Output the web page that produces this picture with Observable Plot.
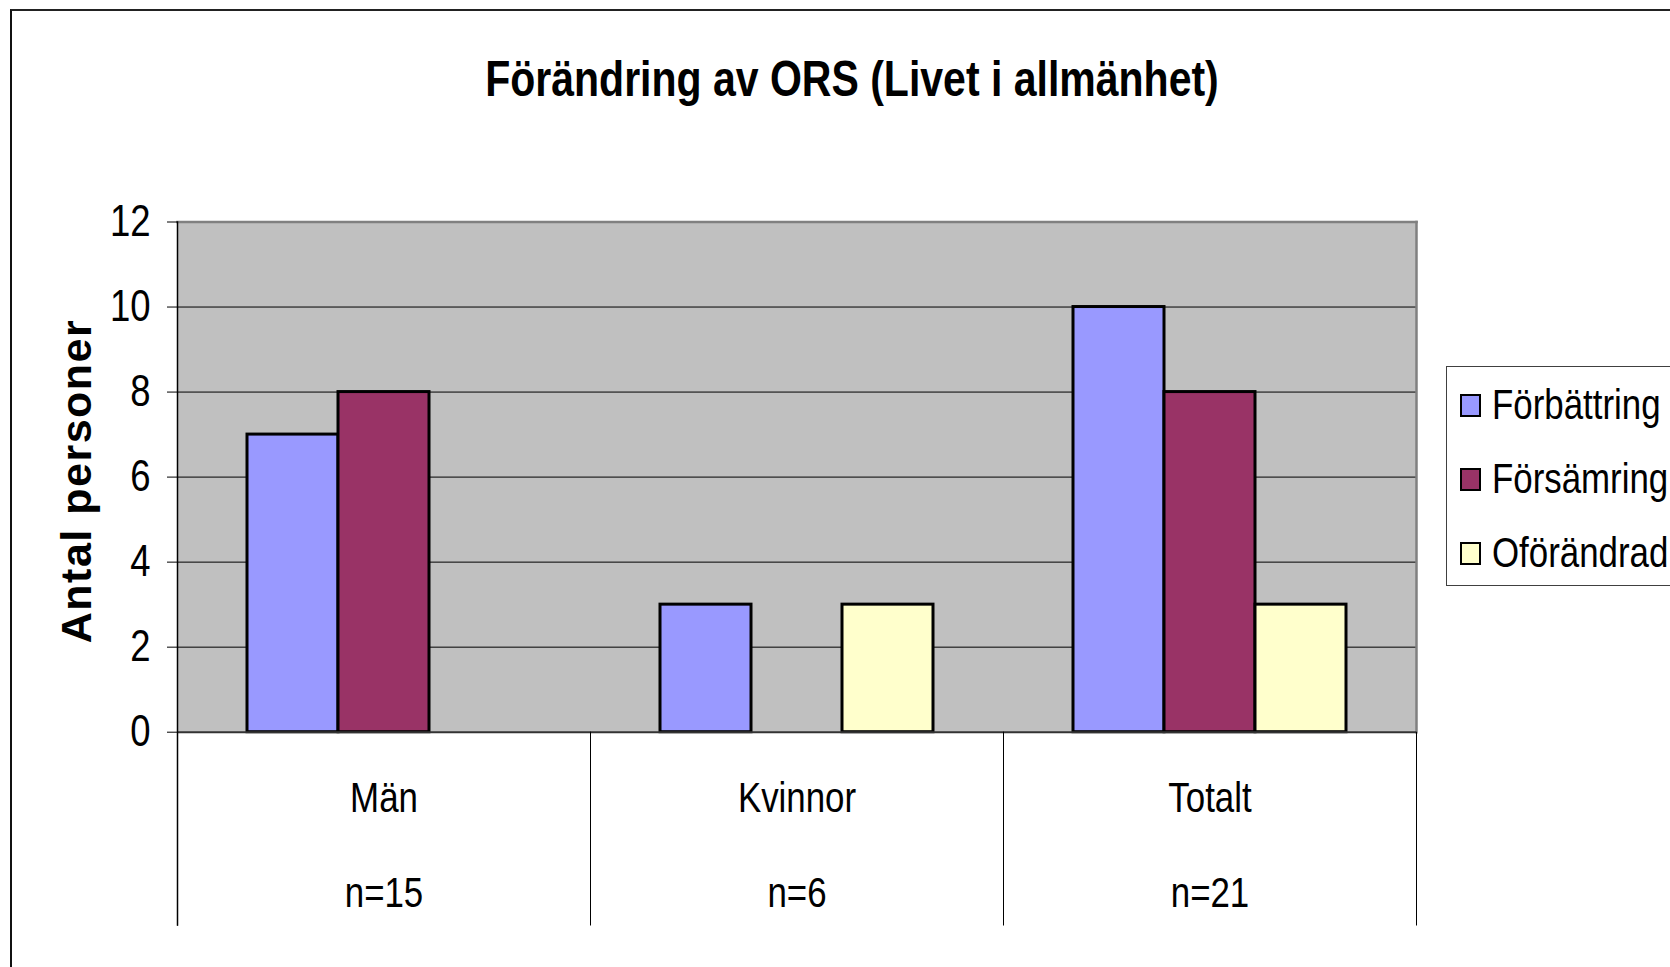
<!DOCTYPE html>
<html>
<head>
<meta charset="utf-8">
<script src="https://cdn.jsdelivr.net/npm/d3@7"></script>
<script src="https://cdn.jsdelivr.net/npm/@observablehq/plot@0.6"></script>
<style>
  html, body { margin: 0; padding: 0; background: #fff; }
  #wrap { position: relative; width: 1670px; height: 967px; overflow: hidden; background: #fff;
          font-family: "Liberation Sans", Arial, sans-serif; }
  #chart { position: absolute; left: 0; top: 0; }
  #border { position: absolute; left: 10px; top: 9px; width: 1700px; height: 1000px;
            border-top: 2px solid #222; border-left: 2px solid #111; }
  #title { position: absolute; left: 852px; top: 54px; transform: translateX(-50%) scaleX(0.82);
           font-weight: bold; font-size: 50px; line-height: 50px; white-space: nowrap; color: #000; }
  #ytitle { position: absolute; left: 76px; top: 481px; transform: translate(-50%, -50%) rotate(-90deg);
            font-weight: bold; font-size: 43px; line-height: 43px; letter-spacing: 1.5px;
            white-space: nowrap; color: #000; }
  #legend { position: absolute; left: 1446px; top: 366px; width: 300px; height: 220px;
            border: 1.5px solid #404040; background: #fff; box-sizing: border-box; }
  .item { position: absolute; left: 13px; height: 44px; display: flex; align-items: center;
          font-size: 42.5px; line-height: 44px; white-space: nowrap; color: #000; }
  .item span { display: inline-block; transform: scaleX(0.82); transform-origin: left center; }
  .sw { width: 17px; height: 19px; border: 2px solid #000; margin-right: 11px; flex: none; }
</style>
</head>
<body>
<div id="wrap">
  <div id="chart"></div>
  <div id="border"></div>
  <div id="title"></div>
  <div id="ytitle"></div>
  <div id="legend"></div>
</div>
<script>
// ---- data ----
const titleText = "Förändring av ORS (Livet i allmänhet)";
const yLabel = "Antal personer";
const categories = ["Män", "Kvinnor", "Totalt"];
const sampleSizes = ["n=15", "n=6", "n=21"];
const series = ["Förbättring", "Försämring", "Oförändrad"];
const forbattring = [7, 3, 10];
const forsamring = [8, 0, 8];
const oforandrad = [0, 3, 3];
const yTicks = [0, 2, 4, 6, 8, 10, 12];
const gridTicks = [2, 4, 6, 8, 10];
const colors = ["#9999FF", "#993366", "#FFFFCC"];

const seriesValues = [forbattring, forsamring, oforandrad];
const rows = [];
categories.forEach((c, i) => {
  series.forEach((s, j) => {
    rows.push({category: c, series: s, value: seriesValues[j][i]});
  });
});
const visibleRows = rows.filter(d => d.value > 0);

const W = 1670, H = 967;
const mL = 176, mR = 253.5, mT = 221.5, mB = 235.3;
const innerH = H - mT - mB;
const below = 192.8;
const condense = 0.82; // emulate Arial Narrow

const chart = Plot.plot({
  width: W,
  height: H,
  marginLeft: mL,
  marginRight: mR,
  marginTop: mT,
  marginBottom: mB,
  style: {fontFamily: '"Liberation Sans", Arial, sans-serif', fontSize: "42.5px", color: "#000", background: "transparent", overflow: "visible"},
  fx: {domain: categories, padding: 0, axis: null, label: null},
  x: {domain: series, paddingInner: 0, paddingOuter: 0.75, axis: null, label: null},
  y: {domain: [0, 12], axis: null},
  color: {domain: series, range: colors},
  marks: [
    Plot.frame({fill: "#C0C0C0", stroke: null, facet: "super"}),
    Plot.ruleY(gridTicks, {stroke: "#000", strokeWidth: 1}),
    Plot.frame({anchor: "top", stroke: "#808080", strokeWidth: 2.5, facet: "super"}),
    Plot.frame({anchor: "right", stroke: "#808080", strokeWidth: 2.5, facet: "super"}),
    Plot.barY(visibleRows, {fx: "category", x: "series", y: "value", fill: "series", stroke: "#000", strokeWidth: 3}),
    Plot.ruleY([0], {stroke: "#333", strokeWidth: 2}),
    Plot.axisY(yTicks, {tickSize: 10, tickPadding: 17, label: null, fontSize: 44.5, stroke: "#000"}),
    Plot.frame({anchor: "left", stroke: "#000", strokeWidth: 1.5, insetBottom: -below, facet: "super"}),
    Plot.frame({anchor: "left", stroke: "#000", strokeWidth: 1, insetTop: innerH, insetBottom: -below}),
    Plot.frame({anchor: "right", stroke: "#000", strokeWidth: 1, insetTop: innerH, insetBottom: -below, facet: "super"}),
    Plot.text(categories, {fx: d => d, text: d => d, frameAnchor: "bottom", lineAnchor: "middle", dy: 66, fontSize: 42.5}),
    Plot.text(categories, {fx: d => d, text: (d, i) => sampleSizes[i], frameAnchor: "bottom", lineAnchor: "middle", dy: 161, fontSize: 42.5})
  ]
});
document.getElementById("chart").appendChild(chart);

// condense SVG texts horizontally (Arial Narrow look)
chart.querySelectorAll("text").forEach(t => {
  const w = t.getComputedTextLength();
  if (w > 0) {
    t.setAttribute("textLength", (w * condense).toFixed(2));
    t.setAttribute("lengthAdjust", "spacingAndGlyphs");
  }
});

document.getElementById("title").textContent = titleText;
document.getElementById("ytitle").textContent = yLabel;

const legend = document.getElementById("legend");
const rowTops = [16, 90, 164];
series.forEach((s, j) => {
  const item = document.createElement("div");
  item.className = "item";
  item.style.top = rowTops[j] + "px";
  const sw = document.createElement("div");
  sw.className = "sw";
  sw.style.background = colors[j];
  const label = document.createElement("span");
  label.textContent = s;
  item.appendChild(sw);
  item.appendChild(label);
  legend.appendChild(item);
});
</script>
</body>
</html>
